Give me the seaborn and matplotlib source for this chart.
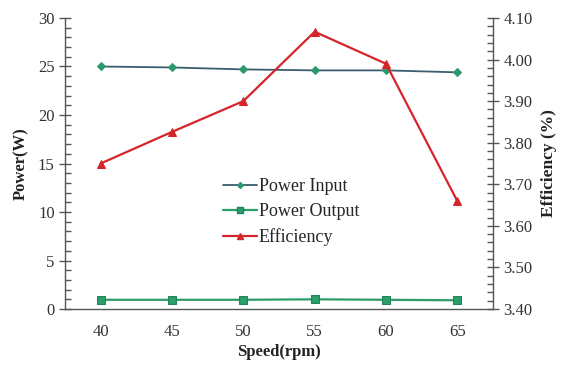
import matplotlib
matplotlib.use("Agg")
import matplotlib.pyplot as plt
import seaborn as sns
import pandas as pd
from matplotlib.ticker import MultipleLocator, FormatStrFormatter
from matplotlib.lines import Line2D

speed = [40, 45, 50, 55, 60, 65]
power_input = [25.0, 24.9, 24.7, 24.6, 24.6, 24.4]
power_output = [0.95, 0.95, 0.95, 1.0, 0.95, 0.9]
efficiency = [3.75, 3.826, 3.90, 4.067, 3.99, 3.66]

sns.set_style("white")
plt.rcParams['font.family'] = ['Liberation Serif', 'DejaVu Serif']

df = pd.DataFrame({"speed": speed, "pin": power_input, "pout": power_output, "eff": efficiency})

fig = plt.figure(figsize=(5.63, 3.65), dpi=100)
ax = fig.add_axes([0.1155, 0.1534, 0.76, 0.7973])
ax2 = ax.twinx()

c_in_line = "#3b5e6e"
c_in_mark = "#2a9a6e"
c_out = "#2b9e6b"
c_out_mark = "#1f8456"
c_eff = "#d5242b"

sns.lineplot(data=df, x="speed", y="pin", ax=ax, color=c_in_line, lw=1.3,
             marker="D", markersize=4, markerfacecolor=c_in_mark, markeredgecolor=c_in_mark)
sns.lineplot(data=df, x="speed", y="pout", ax=ax, color=c_out, lw=1.6,
             marker="s", markersize=6, markerfacecolor=c_out, markeredgecolor=c_out_mark)
sns.lineplot(data=df, x="speed", y="eff", ax=ax2, color=c_eff, lw=1.6,
             marker="^", markersize=6, markerfacecolor=c_eff, markeredgecolor=c_eff)

ax.set_xlim(37.5, 67.5)
ax.set_ylim(0, 30)
ax2.set_ylim(3.40, 4.10)
ax.set_xticks(speed)
ax.yaxis.set_major_locator(MultipleLocator(5))
ax.yaxis.set_minor_locator(MultipleLocator(1))
ax2.yaxis.set_major_locator(MultipleLocator(0.1))
ax2.yaxis.set_minor_locator(MultipleLocator(0.02))
ax2.yaxis.set_major_formatter(FormatStrFormatter("%.2f"))

for a in (ax, ax2):
    for s in a.spines.values():
        s.set_visible(False)
ax.spines["left"].set_visible(True)
ax.spines["bottom"].set_visible(True)
ax2.spines["right"].set_visible(True)
for sp in (ax.spines["left"], ax.spines["bottom"], ax2.spines["right"]):
    sp.set_color("#555555")
    sp.set_linewidth(1.0)

ax.tick_params(axis="y", which="major", direction="inout", length=8, width=1, color="#555555",
               labelsize=12, labelcolor="#333333", left=True)
ax.tick_params(axis="y", which="minor", direction="in", length=4, width=1, color="#555555", left=True)
ax.tick_params(axis="x", which="both", bottom=False, labelsize=12, labelcolor="#333333", pad=7)
ax2.tick_params(axis="y", which="major", direction="inout", length=8, width=1, color="#555555",
                labelsize=12, labelcolor="#333333", right=True)
ax2.tick_params(axis="y", which="minor", direction="in", length=4, width=1, color="#555555", right=True)

ax.set_xlabel("Speed(rpm)", fontsize=12, fontweight="bold", color="#222222", labelpad=3)
ax.set_ylabel("Power(W)", fontsize=12, fontweight="bold", color="#222222", labelpad=6)
ax2.set_ylabel("Efficiency (%)", fontsize=12.5, fontweight="bold", color="#222222", labelpad=6)

handles = [
    Line2D([], [], color=c_in_line, lw=1.3, marker="D", markersize=3,
           markerfacecolor=c_in_mark, markeredgecolor=c_in_mark),
    Line2D([], [], color=c_out, lw=1.6, marker="s", markersize=4,
           markerfacecolor=c_out, markeredgecolor=c_out_mark),
    Line2D([], [], color=c_eff, lw=1.6, marker="^", markersize=4,
           markerfacecolor=c_eff, markeredgecolor=c_eff),
]
ax2.legend(handles, ["Power Input", "Power Output", "Efficiency"], loc="upper left",
           bbox_to_anchor=(0.352, 0.475), frameon=False, fontsize=13, handlelength=1.9,
           handletextpad=0.1, labelspacing=0.45, borderaxespad=0)

fig.savefig("out.png", dpi=100)
